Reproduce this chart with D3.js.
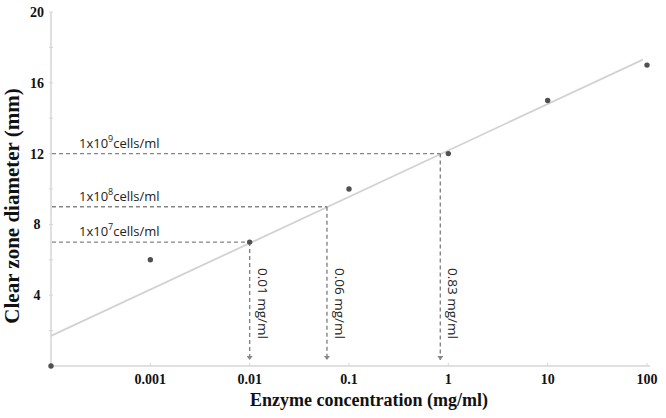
<!DOCTYPE html>
<html>
<head>
<meta charset="utf-8">
<script src="https://cdn.jsdelivr.net/npm/d3@7"></script>
<style>
  body { margin: 0; background: #fff; }
  svg { display: block; }
</style>
</head>
<body>
<div id="chart"></div>
<script>
// measured points (0 = control, drawn at left edge of the log axis)
const concentrations = [0, 0.001, 0.01, 0.1, 1, 10, 100];
const diameters = [0, 6, 7, 10, 12, 15, 17];

const xTicks = [0.001, 0.01, 0.1, 1, 10, 100];
const xTickLabels = ["0.001", "0.01", "0.1", "1", "10", "100"];
const yTicks = [4, 8, 12, 16, 20];
const yMinorTicks = [2, 6, 10, 14, 18];

// fitted line: diameter = a + b * log10(conc)
const fitA = 12.18;
const fitB = 2.62;
const fitEnds = [0.0001, 91];

// cell-density annotations
const cellExponents = [7, 8, 9];
const cellDiameters = [7, 9, 12];
const cellConc = [0.01, 0.06, 0.83];
const concLabels = ["0.01 mg/ml", "0.06 mg/ml", "0.83 mg/ml"];

const width = 666, height = 418;
const margins = [12, 19, 52, 51]; // top, right, bottom, left
const [mt, mr, mb, ml] = margins;

const svg = d3.select("#chart").append("svg")
  .attr("width", width)
  .attr("height", height);

const x = d3.scaleLog().domain([0.0001, 100]).range([ml, width - mr]);
const y = d3.scaleLinear().domain([0, 20]).range([height - mb, mt]);
const xPos = (c) => x(c === 0 ? 0.0001 : c);

const axisColor = "#d6d6d6";
const dashColor = "#858585";
const serif = "'Liberation Serif', 'Times New Roman', serif";

svg.append("defs").append("marker")
  .attr("id", "arrow")
  .attr("viewBox", "0 0 6 6")
  .attr("refX", 3).attr("refY", 6)
  .attr("markerWidth", 6).attr("markerHeight", 6)
  .attr("markerUnits", "userSpaceOnUse")
  .attr("orient", "0")
  .append("path")
  .attr("d", "M0,2 L6,2 L3,6 Z")
  .attr("fill", dashColor);

// y axis
svg.append("line")
  .attr("x1", ml).attr("x2", ml)
  .attr("y1", y(0)).attr("y2", y(20))
  .attr("stroke", axisColor).attr("stroke-width", 1.5);

svg.selectAll(".ytick")
  .data(yTicks.concat(yMinorTicks))
  .join("line")
  .attr("x1", ml - 2).attr("x2", ml + 2)
  .attr("y1", (d) => y(d)).attr("y2", (d) => y(d))
  .attr("stroke", axisColor).attr("stroke-width", 1);

svg.selectAll(".ylab")
  .data(yTicks)
  .join("text")
  .attr("x", 37)
  .attr("y", (d) => y(d) + 5)
  .attr("text-anchor", "middle")
  .attr("font-family", serif)
  .attr("font-weight", "bold")
  .attr("font-size", "14px")
  .attr("fill", "#111")
  .text((d) => d);

// x axis
svg.append("line")
  .attr("x1", ml).attr("x2", x(100) + 3)
  .attr("y1", y(0)).attr("y2", y(0))
  .attr("stroke", axisColor).attr("stroke-width", 1.5);

svg.selectAll(".xtick")
  .data(xTicks)
  .join("line")
  .attr("x1", (d) => x(d)).attr("x2", (d) => x(d))
  .attr("y1", y(0) - 3).attr("y2", y(0))
  .attr("stroke", axisColor).attr("stroke-width", 1);

svg.selectAll(".xlab")
  .data(xTicks)
  .join("text")
  .attr("x", (d) => x(d))
  .attr("y", y(0) + 18)
  .attr("text-anchor", "middle")
  .attr("font-family", serif)
  .attr("font-weight", "bold")
  .attr("font-size", "14px")
  .attr("fill", "#111")
  .text((d, i) => xTickLabels[i]);

// axis titles
svg.append("text")
  .attr("x", 369)
  .attr("y", 406)
  .attr("text-anchor", "middle")
  .attr("font-family", serif)
  .attr("font-weight", "bold")
  .attr("font-size", "18px")
  .attr("fill", "#111")
  .text("Enzyme concentration (mg/ml)");

svg.append("text")
  .attr("transform", "translate(19, 206) rotate(-90)")
  .attr("text-anchor", "middle")
  .attr("font-family", serif)
  .attr("font-weight", "bold")
  .attr("font-size", "21px")
  .attr("fill", "#111")
  .text("Clear zone diameter (mm)");

// fitted line
svg.append("line")
  .attr("x1", x(fitEnds[0])).attr("y1", y(fitA + fitB * Math.log10(fitEnds[0])))
  .attr("x2", x(fitEnds[1])).attr("y2", y(fitA + fitB * Math.log10(fitEnds[1])))
  .attr("stroke", "#d2d2d2").attr("stroke-width", 1.8);

// dashed guides
const guides = svg.append("g");
cellDiameters.forEach((d, i) => {
  guides.append("line")
    .attr("x1", ml + 1).attr("x2", x(cellConc[i]))
    .attr("y1", y(d)).attr("y2", y(d))
    .attr("stroke", dashColor).attr("stroke-width", 1.4)
    .attr("stroke-dasharray", "4,3");
  guides.append("line")
    .attr("x1", x(cellConc[i])).attr("x2", x(cellConc[i]))
    .attr("y1", y(d)).attr("y2", y(0) - 6)
    .attr("stroke", dashColor).attr("stroke-width", 1.4)
    .attr("stroke-dasharray", "4,3")
    .attr("marker-end", "url(#arrow)");

  const t = guides.append("text")
    .attr("x", 79)
    .attr("y", y(d) - 6)
    .attr("font-family", "'Open Sans', sans-serif")
    .attr("font-size", "13px")
    .attr("fill", "#222");
  t.append("tspan").text("1x10");
  t.append("tspan").attr("dy", -6).attr("font-size", "9px").text(cellExponents[i]);
  t.append("tspan").attr("dy", 6).text("cells/ml");

  guides.append("text")
    .attr("transform", `translate(${x(cellConc[i]) + 8}, 268) rotate(90)`)
    .attr("font-family", "'Open Sans', sans-serif")
    .attr("font-size", "13.5px")
    .attr("fill", "#222")
    .text(concLabels[i]);
});

// points
svg.selectAll(".pt")
  .data(concentrations.map((c, i) => [c, diameters[i]]))
  .join("circle")
  .attr("cx", (d) => xPos(d[0]))
  .attr("cy", (d) => y(d[1]))
  .attr("r", 2.7)
  .attr("fill", "#505050");
</script>
</body>
</html>
